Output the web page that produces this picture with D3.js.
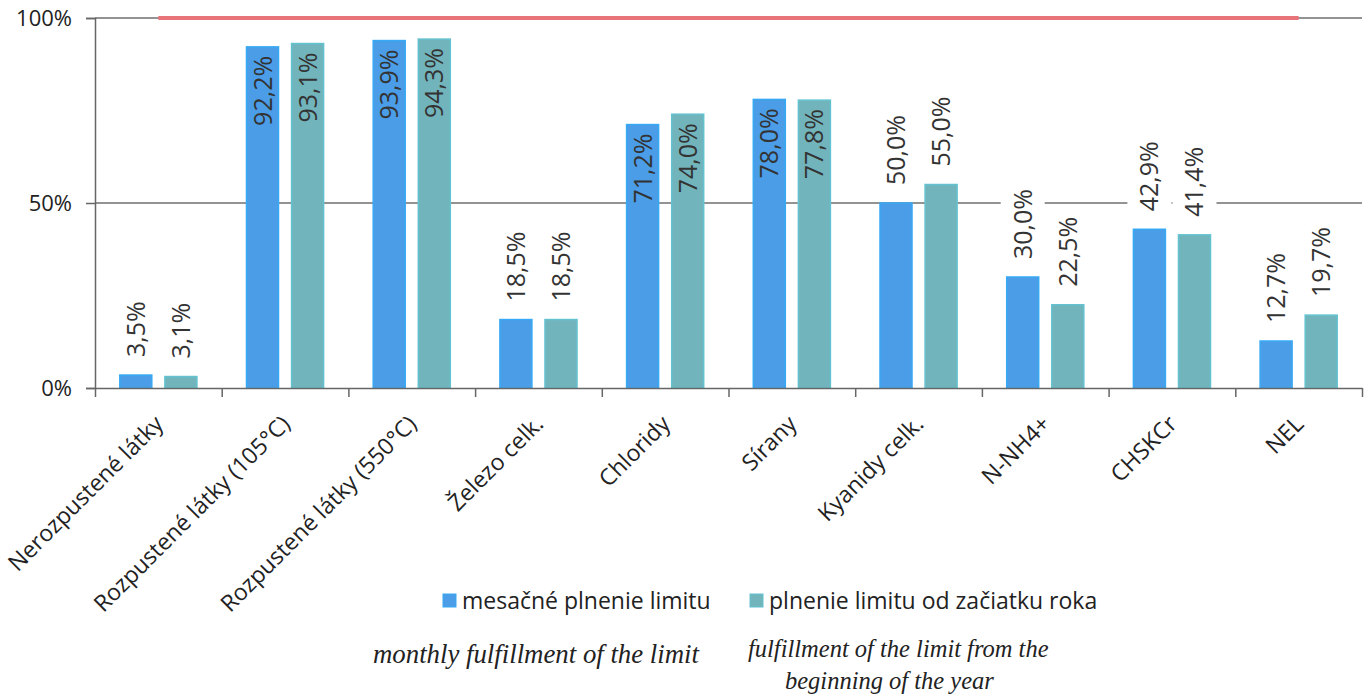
<!DOCTYPE html>
<html>
<head>
<meta charset="utf-8">
<script src="https://cdn.jsdelivr.net/npm/d3@7"></script>
<style>
  body { margin: 0; background: #fff; }
  svg { display: block; font-family: 'Open Sans', sans-serif; }
</style>
</head>
<body>
<svg id="chart" width="1368" height="695"></svg>
<script>
const categories = ['Nerozpustené látky', 'Rozpustené látky (105°C)', 'Rozpustené látky (550°C)',
  'Železo celk.', 'Chloridy', 'Sírany', 'Kyanidy celk.', 'N-NH4+', 'CHSKCr', 'NEL'];
const monthly = [3.5, 92.2, 93.9, 18.5, 71.2, 78.0, 50.0, 30.0, 42.9, 12.7];
const sinceStart = [3.1, 93.1, 94.3, 18.5, 74.0, 77.8, 55.0, 22.5, 41.4, 19.7];
const limit = [100, 100, 100, 100, 100, 100, 100, 100, 100, 100];
const seriesNames = ['mesačné plnenie limitu', 'plnenie limitu od začiatku roka'];
const seriesEnglish = [['monthly fulfillment of the limit'], ['fulfillment of the limit from the', 'beginning of the year']];
const yTicks = [0, 50, 100];

const colors = {
  fill: ['#4a9de6', '#72b4bc'],
  stroke: ['#38a9f4', '#63c2cf'],
  limit: '#e8737a',
  axis: '#666',
  text: '#333'
};

const plotLeft = 95, plotRight = 1362, plotTop = 18, plotBottom = 388;
const svg = d3.select('#chart');

const x = d3.scaleBand().domain(categories).range([plotLeft, plotRight]);
const x1 = d3.scaleBand().domain([0, 1]).range([0, x.bandwidth()]).paddingInner(0.29).paddingOuter(0.55);
const y = d3.scaleLinear().domain([0, 100]).range([plotBottom, plotTop]);

// gridlines
svg.append('g')
  .selectAll('line')
  .data(yTicks.filter(d => d > 0))
  .join('line')
  .attr('x1', plotLeft).attr('x2', plotRight)
  .attr('y1', d => y(d)).attr('y2', d => y(d))
  .attr('stroke', '#6f6f6f').attr('stroke-width', 1.3);

// y axis
const yAxis = svg.append('g')
  .attr('transform', 'translate(' + plotLeft + ',0)')
  .call(d3.axisLeft(y).tickValues(yTicks).tickFormat(d => d + '%').tickSize(9).tickPadding(14));
yAxis.select('.domain').attr('stroke', colors.axis).attr('stroke-width', 1.5);
yAxis.selectAll('.tick line').attr('stroke', colors.axis).attr('stroke-width', 1.5);
yAxis.selectAll('.tick text').attr('font-size', 22).attr('fill', '#222').attr('font-family', 'Open Sans');

// bars
const data = [monthly, sinceStart];
const groups = svg.append('g')
  .selectAll('g')
  .data(categories)
  .join('g')
  .attr('transform', d => 'translate(' + x(d) + ',0)');

groups.selectAll('rect')
  .data((d, i) => data.map((s, k) => ({k, v: s[i]})))
  .join('rect')
  .attr('x', d => x1(d.k))
  .attr('width', x1.bandwidth())
  .attr('y', d => y(d.v))
  .attr('height', d => y(0) - y(d.v))
  .attr('fill', d => colors.fill[d.k])
  .attr('stroke', d => colors.stroke[d.k])
  .attr('stroke-width', 1.5);

// x axis with ticks at band boundaries
const xb = d3.scaleLinear().domain([0, categories.length]).range([plotLeft, plotRight]);
const xAxis = svg.append('g')
  .attr('transform', 'translate(0,' + plotBottom + ')')
  .call(d3.axisBottom(xb).tickValues(d3.range(categories.length + 1)).tickFormat('').tickSize(9).tickSizeOuter(0));
xAxis.select('.domain').attr('stroke', colors.axis).attr('stroke-width', 1.5);
xAxis.selectAll('.tick line').attr('stroke', colors.axis).attr('stroke-width', 1.5);

svg.append('g')
  .selectAll('text')
  .data(categories)
  .join('text')
  .attr('transform', d => 'translate(' + (x(d) + x.bandwidth() / 2 - 5) + ',' + (plotBottom + 26) + ') rotate(-45)')
  .attr('text-anchor', 'end')
  .attr('dy', '0.7em')
  .attr('font-size', 23)
  .attr('fill', '#222')
  .text(d => d);

// limit line
svg.append('path')
  .datum(limit)
  .attr('d', d3.line().x((d, i) => x(categories[i]) + x.bandwidth() / 2).y(d => y(d)))
  .attr('fill', 'none')
  .attr('stroke', colors.limit)
  .attr('stroke-width', 4);

// data labels
const fmt = v => v.toFixed(1).replace('.', ',') + '%';
const labels = groups.selectAll('g.lbl')
  .data((d, i) => data.map((s, k) => ({k, v: s[i]})))
  .join('g')
  .attr('class', 'lbl')
  .attr('transform', d => {
    const cx = x1(d.k) + x1.bandwidth() / 2;
    const inside = d.v > 65;
    return 'translate(' + cx + ',' + (inside ? y(d.v) + 9 : y(d.v) - 18) + ') rotate(-90)';
  });

labels.filter(d => d.v <= 65).append('rect')
  .attr('x', -4).attr('y', -22)
  .attr('width', 82).attr('height', 44)
  .attr('fill', '#fff');

labels.append('text')
  .attr('text-anchor', d => d.v > 65 ? 'end' : 'start')
  .attr('dy', '0.36em')
  .attr('font-size', 25)
  .attr('fill', colors.text)
  .text(d => fmt(d.v));

// legend
const legendX = [443, 750];
const legend = svg.append('g')
  .selectAll('g')
  .data(seriesNames)
  .join('g')
  .attr('transform', (d, i) => 'translate(' + legendX[i] + ',594)');
legend.append('rect')
  .attr('width', 13).attr('height', 13)
  .attr('fill', (d, i) => colors.fill[i])
  .attr('stroke', (d, i) => colors.stroke[i]);
legend.append('text')
  .attr('x', 19).attr('y', 7).attr('dy', '0.35em')
  .attr('font-size', 23).attr('fill', '#222')
  .text(d => d);

// english captions
const capX = [[373], [748, 785]];
const capY = [[663], [657, 689]];
const capSize = [26.8, 24.5];
seriesEnglish.forEach((lines, i) => {
  svg.append('text')
    .attr('font-family', 'Liberation Serif, serif')
    .attr('font-style', 'italic')
    .attr('font-size', capSize[i])
    .attr('fill', '#222')
    .selectAll('tspan')
    .data(lines)
    .join('tspan')
    .attr('x', (d, j) => capX[i][j])
    .attr('y', (d, j) => capY[i][j])
    .text(d => d);
});
</script>
</body>
</html>
